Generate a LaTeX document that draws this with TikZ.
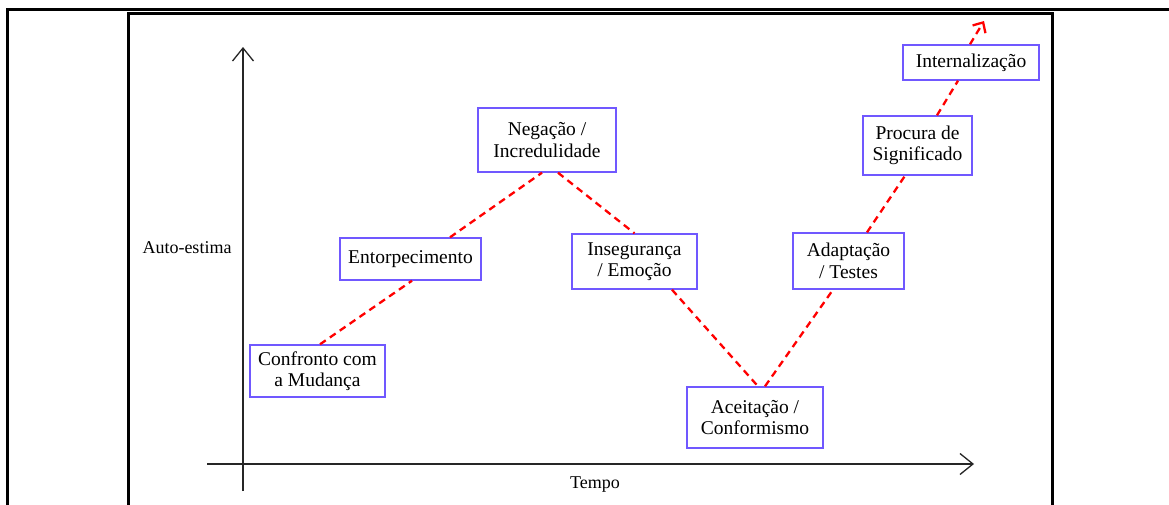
\documentclass[tikz,border=0pt]{standalone}
\usepackage{fontspec}
\setmainfont{Liberation Serif}
\usetikzlibrary{arrows.meta}
\definecolor{boxblue}{RGB}{112,88,255}
\definecolor{linkred}{RGB}{255,0,0}
\begin{document}
\begin{tikzpicture}[x=1pt,y=-1pt,
  stage/.style={draw=boxblue,line width=1.4pt,fill=white,inner sep=0pt,align=center,
    font=\fontsize{19.5}{21.5}\selectfont},
  link/.style={draw=linkred,line width=2.3pt,dash pattern=on 7pt off 5pt},
  axis/.style={draw=black!85,line width=1.3pt,-{Straight Barb[length=13pt,width=21pt,line width=1.3pt]}},
  axislabel/.style={font=\fontsize{18}{20}\selectfont,inner sep=0pt}]
\useasboundingbox (0,0) rectangle (1169,504);
\clip (0,0) rectangle (1169,504);
\fill[white] (0,0) rectangle (1169,504);
% frames
\draw[line width=3pt] (7.5,9) rectangle (1250,600);
\draw[line width=2.6pt] (128.5,13.5) rectangle (1052.5,600);
% axes
\coordinate (yaxisfoot) at (243,491);
\coordinate (yaxistop) at (243,47);
\coordinate (xaxisstart) at (207,464);
\coordinate (xaxisend) at (974,464);
\draw[axis] (yaxisfoot) -- (yaxistop);
\draw[axis] (xaxisstart) -- (xaxisend);
\node[axislabel] (ylabel) at (187,248) {Auto-estima};
\node[axislabel] (xlabel) at (595,485) {Tempo};
% stages
\node[stage,minimum width=135pt,minimum height=52pt] (conf) at (317.5,371) {Confronto com\\a Mudança};
\node[stage,minimum width=141pt,minimum height=42pt] (ent) at (410.5,259) {Entorpecimento};
\node[stage,minimum width=138pt,minimum height=64pt] (neg) at (547,140) {Negação /\\Incredulidade};
\node[stage,minimum width=125pt,minimum height=55pt] (ins) at (634.5,261.5) {Insegurança\\/ Emoção};
\node[stage,minimum width=136pt,minimum height=61pt] (acc) at (755,417.5) {Aceitação /\\Conformismo};
\node[stage,minimum width=111pt,minimum height=56pt] (ada) at (848.5,261) {Adaptação\\/ Testes};
\node[stage,minimum width=109pt,minimum height=59pt] (pro) at (917.5,145.5) {Procura de\\Significado};
\node[stage,minimum width=136pt,minimum height=35pt] (int) at (971,62.5) {Internalização};
\coordinate (beyond) at (984,21);
% path through the stages
\draw[link] ([xshift=2.5pt]conf.north) -- ([xshift=1.5pt]ent.south);
\draw[link] ([xshift=39.5pt]ent.north) -- ([xshift=-5pt]neg.south);
\draw[link] ([xshift=11pt]neg.south) -- (ins.north);
\draw[link] ([xshift=37.5pt]ins.south) -- ([xshift=3pt]acc.north);
\draw[link] ([xshift=10pt]acc.north) -- ([xshift=-15.5pt]ada.south);
\draw[link] ([xshift=18.5pt]ada.north) -- ([xshift=-12.5pt]pro.south);
\draw[link] ([xshift=19.5pt]pro.north) -- ([xshift=-13pt]int.south);
\draw[link,-{Straight Barb[length=8pt,width=15pt,line width=2.3pt]}] ([xshift=-1pt]int.north) -- (beyond);
\end{tikzpicture}
\end{document}
